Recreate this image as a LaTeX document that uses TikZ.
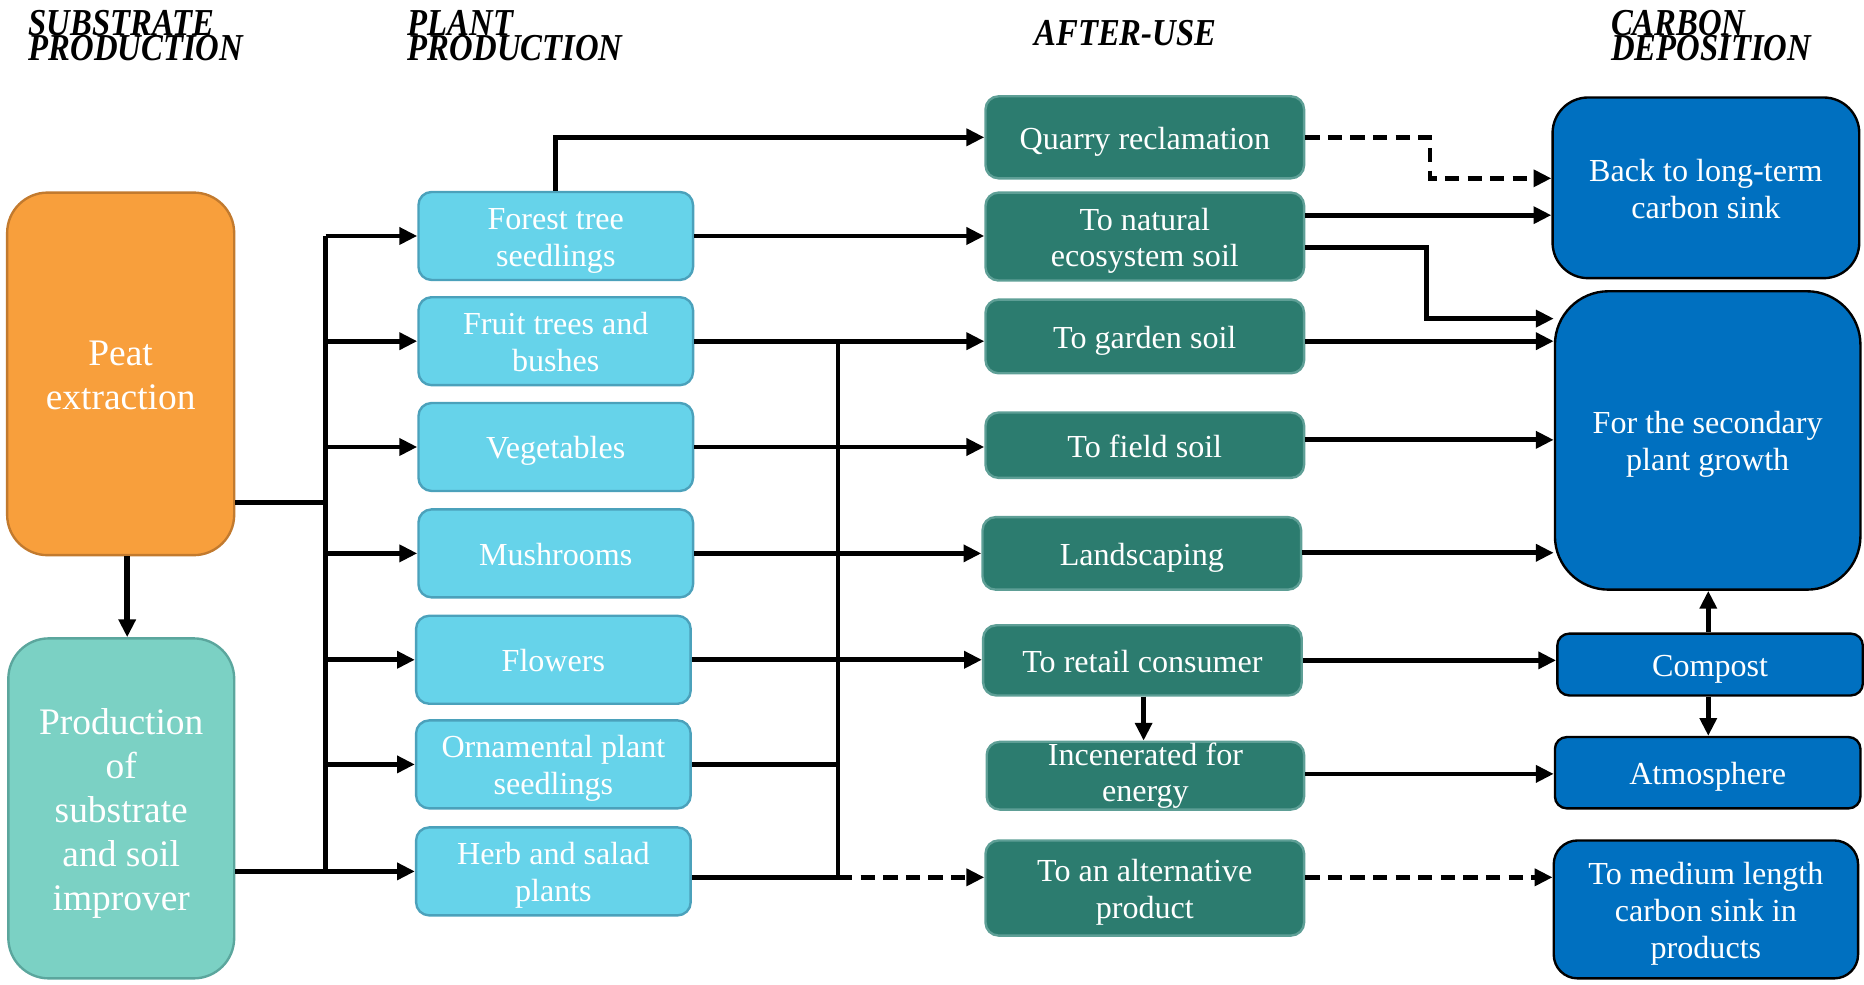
\documentclass[tikz,border=0pt]{standalone}
\usepackage{fontspec}
\setmainfont{Liberation Serif}
\usetikzlibrary{arrows.meta}
\definecolor{peatfill}{HTML}{F89F3C}
\definecolor{peatdraw}{HTML}{C27A2E}
\definecolor{prodfill}{HTML}{7BD1C4}
\definecolor{proddraw}{HTML}{5BA69D}
\definecolor{plantfill}{HTML}{66D3EA}
\definecolor{plantdraw}{HTML}{4BA1BB}
\definecolor{usefill}{HTML}{2C7C6F}
\definecolor{usedraw}{HTML}{5E9F96}
\definecolor{carbfill}{HTML}{0070C0}
\newcommand{\hdtext}[2]{\scalebox{0.86}[1]{\vbox{\lineskiplimit=-100pt\hbox{#1}\hbox{#2}}}}
\newcommand{\lsa}{\rule{0pt}{0.99em}}
\newcommand{\lsb}{\rule[-0.25em]{0pt}{0.25em}}
\begin{document}
\begin{tikzpicture}[x=1pt,y=-1pt,
  box/.style={rectangle, line width=2pt, text=white, align=center, inner sep=0pt},
  bigbox/.style={box, rounded corners=34pt, font=\fontsize{31.5}{37}\selectfont},
  peatbox/.style={bigbox, fill=peatfill, draw=peatdraw},
  prodbox/.style={bigbox, fill=prodfill, draw=proddraw},
  plantbox/.style={box, rounded corners=11pt, fill=plantfill, draw=plantdraw,
    minimum width=231pt, minimum height=74pt, font=\fontsize{27}{31}\selectfont},
  usebox/.style={box, rounded corners=11pt, fill=usefill, draw=usedraw,
    minimum width=268pt, font=\fontsize{27}{31}\selectfont},
  carbbox/.style={box, fill=carbfill, draw=black, minimum width=257pt,
    font=\fontsize{27}{31}\selectfont},
  head/.style={anchor=west, inner sep=0pt, font=\fontsize{32}{21}\selectfont\bfseries\itshape},
  wire/.style={line width=4pt},
  conn/.style={wire, -{Triangle[length=15pt,width=14pt]}},
  dconn/.style={conn, dash pattern=on 12pt off 7pt},
]
\useasboundingbox (0,0) rectangle (1568,828);

% headers
\node[head] (h1) at (24,30) {\hdtext{SUBSTRATE}{PRODUCTION}};
\node[head] (h2) at (343,30) {\hdtext{PLANT}{PRODUCTION}};
\node[head] (h3) at (870,28) {\scalebox{0.86}[1]{AFTER-USE}};
\node[head] (h4) at (1355,30) {\hdtext{CARBON}{DEPOSITION}};

% substrate column
\node[peatbox, minimum width=191pt, minimum height=305pt] (peat) at (101.5,314.5) {\lsa Peat\\extraction\lsb};
\node[prodbox, minimum width=190pt, minimum height=286pt] (prod) at (102,680) {\lsa Production\\of\\substrate\\and soil\\improver\lsb};

% plant column
\node[plantbox] (forest) at (467.5,198.5) {\lsa Forest tree\\seedlings\lsb};
\node[plantbox] (fruit) at (467.5,287) {\lsa Fruit trees and\\bushes\lsb};
\node[plantbox] (veg) at (467.5,376) {\lsa Vegetables\lsb};
\node[plantbox] (mush) at (467.5,465.5) {\lsa Mushrooms\lsb};
\node[plantbox] (flow) at (465.5,555) {\lsa Flowers\lsb};
\node[plantbox] (orn) at (465.5,643) {\lsa Ornamental plant\\seedlings\lsb};
\node[plantbox] (herb) at (465.5,733) {\lsa Herb and salad\\plants\lsb};

% after-use column
\node[usebox, minimum height=69pt] (quarry) at (963,115.5) {\lsa Quarry reclamation\lsb};
\node[usebox, minimum height=74pt] (nat) at (963,199) {\lsa To natural\\ecosystem soil\lsb};
\node[usebox, minimum height=62pt] (garden) at (963,283) {\lsa To garden soil\lsb};
\node[usebox, minimum height=55pt] (field) at (963,374.5) {\lsa To field soil\lsb};
\node[usebox, minimum height=61pt] (land) at (960.5,465.5) {\lsa Landscaping\lsb};
\node[usebox, minimum height=59pt] (retail) at (961,555.5) {\lsa To retail consumer\lsb};
\node[usebox, minimum height=57pt, minimum width=267pt] (incin) at (963.5,652.5) {Incenerated for\\energy};
\node[usebox, minimum height=80pt] (alt) at (963,747) {\lsa To an alternative\\product\lsb};

% carbon column
\node[carbbox, rounded corners=30pt, minimum width=258pt, minimum height=152pt] (back) at (1435,158) {\lsa Back to long-term\\carbon sink\lsb};
\node[carbbox, rounded corners=45pt, minimum height=251pt] (second) at (1436.5,370.5) {\lsa For the secondary\\plant growth\lsb};
\node[carbbox, rounded corners=10pt, minimum height=52pt] (compost) at (1438.5,559) {\lsa Compost\lsb};
\node[carbbox, rounded corners=10pt, minimum height=60pt] (atmos) at (1436.5,650) {\lsa Atmosphere\lsb};
\node[carbbox, rounded corners=20pt, minimum width=256pt, minimum height=116pt] (medium) at (1435,765) {\lsa To medium length\\carbon sink in\\products\lsb};

% substrate -> plants
\coordinate (tr) at (274,0);
\draw[conn, line width=4.6pt] (peat.south -| 107,0) -- (prod.north -| 107,0);
\draw[wire, line width=4.6pt] (tr |- forest.west) -- (tr |- herb.west);
\draw[wire] (peat.east |- 0,423) -- (tr |- 0,423);
\draw[wire] (prod.east |- herb.west) -- (tr |- herb.west);
\foreach \n in {forest,fruit,veg,mush,flow,orn,herb}
  \draw[conn] (tr |- \n.west) -- (\n.west);

% plants -> after-use
\coordinate (tr2) at (705,0);
\draw[conn] (forest.north) |- (quarry.west);
\draw[conn] (forest.east) -- (forest.east -| nat.west);
\draw[wire] (tr2 |- fruit.east) -- (tr2 |- 0,738);
\draw[conn] (fruit.east) -- (fruit.east -| garden.west);
\draw[conn] (veg.east) -- (veg.east -| field.west);
\draw[conn] (mush.east) -- (mush.east -| land.west);
\draw[conn] (flow.east) -- (flow.east -| retail.west);
\draw[wire] (orn.east) -- (orn.east -| tr2);
\draw[wire] (herb.east |- 0,738) -- (tr2 |- 0,738);
\draw[dconn] (tr2 |- 0,738) -- (alt.west |- 0,738);

% after-use -> carbon
\draw[dconn] (quarry.east) -| (1203,150) -- (back.west |- 0,150);
\draw[conn] (nat.east |- 0,181) -- (back.west |- 0,181);
\draw[conn] (nat.east |- 0,208) -| (1200,268) -- (second.west |- 0,268);
\draw[conn] (garden.east |- 0,287) -- (second.west |- 0,287);
\draw[conn] (field.east |- 0,370) -- (second.west |- 0,370);
\draw[conn] (land.east |- 0,465) -- (second.west |- 0,465);
\draw[conn] (retail.east) -- (retail.east -| compost.west);
\draw[conn] (retail.south -| 962,0) -- (incin.north -| 962,0);
\draw[conn] (incin.east |- 0,651) -- (atmos.west |- 0,651);
\draw[dconn] (alt.east |- 0,738) -- (medium.west |- 0,738);
\draw[conn] (compost.north -| 1437,0) -- (second.south -| 1437,0);
\draw[conn] (compost.south -| 1437,0) -- (atmos.north -| 1437,0);
\end{tikzpicture}
\end{document}
